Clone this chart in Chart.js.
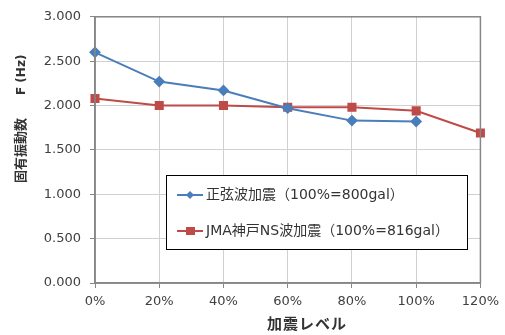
<!DOCTYPE html>
<html>
<head>
<meta charset="utf-8">
<script src="https://cdn.jsdelivr.net/npm/chart.js@4"></script>
<style>
body{margin:0;background:#fff}
#wrap{width:505px;height:335px;position:relative}
</style>
</head>
<body>
<div id="wrap"><canvas id="myChart" width="505" height="335"></canvas></div>
<script>
// categories + two series
var levels=["0%","20%","40%","60%","80%","100%","120%"];
var sineName="正弦波加震（100%=800gal）";
var sineF=[2.60,2.27,2.17,1.97,1.83,1.82,null];
var kobeName="JMA神戸NS波加震（100%=816gal）";
var kobeF=[2.08,2.00,2.00,1.98,1.98,1.94,1.69];
var yTicks=[0,0.5,1,1.5,2,2.5,3];
var yTitleA="固有振動数";
var yTitleB="F (Hz)";
var xTitle="加震レベル";

var blue="#4A7EBB";
var red="#BE4B48";
var fnt="'DejaVu Sans','Noto Sans CJK JP',sans-serif";

// box round the plot, legend inside it, axis titles
var boxPlugin={
  id:"box",
  afterDraw:function(chart){
    var c=chart.ctx, a=chart.chartArea;
    c.save();
    c.strokeStyle="#868686";
    c.lineWidth=1.5;
    c.strokeRect(a.left,a.top,a.right-a.left,a.bottom-a.top);
    // legend
    var lx=166.5, ly=175.5, lw=301, lh=74;
    c.fillStyle="#fff";
    c.fillRect(lx,ly,lw,lh);
    c.strokeStyle="#000";
    c.lineWidth=1;
    c.strokeRect(lx,ly,lw,lh);
    var items=[[sineName,blue,"d",195],[kobeName,red,"s",231]];
    items.forEach(function(it){
      c.strokeStyle=it[1];c.fillStyle=it[1];c.lineWidth=2;
      c.beginPath();c.moveTo(177,it[3]);c.lineTo(203,it[3]);c.stroke();
      if(it[2]=="d"){
        c.beginPath();c.moveTo(190,it[3]-4);c.lineTo(194,it[3]);c.lineTo(190,it[3]+4);c.lineTo(186,it[3]);c.closePath();c.fill();
      }else{
        c.fillRect(186,it[3]-4,9,8);
      }
      c.fillStyle="#333";
      c.font="14px "+fnt;
      c.textBaseline="middle";
      c.fillText(it[0],206,it[3]);
    });
    // axis titles
    c.fillStyle="#333";
    c.textBaseline="middle";
    c.font="bold 15px "+fnt;
    c.textAlign="center";
    c.letterSpacing="1px";
    c.fillText(xTitle,307,325);
    c.letterSpacing="0px";
    c.textAlign="left";
    c.translate(22,183);
    c.rotate(-Math.PI/2);
    c.font="bold 13px "+fnt;
    c.fillText(yTitleA,0,0);
    c.font="bold 12px "+fnt;
    c.fillText(yTitleB,88,0);
    c.restore();
  }
};

new Chart(document.getElementById("myChart"),{
  type:"line",
  data:{
    labels:levels,
    datasets:[{
      label:sineName,
      data:sineF,
      borderColor:blue,backgroundColor:blue,
      borderWidth:2,pointStyle:"rectRot",pointRadius:4.5,pointHoverRadius:4.5,
      tension:0
    },{
      label:kobeName,
      data:kobeF,
      borderColor:red,backgroundColor:red,
      borderWidth:2,pointStyle:"rect",pointRadius:5,pointHoverRadius:5,
      tension:0
    }]
  },
  options:{
    responsive:false,
    animation:false,
    layout:{padding:{left:0,right:22,top:15,bottom:0}},
    plugins:{legend:{display:false},tooltip:{enabled:false}},
    scales:{
      x:{
        offset:false,
        grid:{color:"#d0d0d0",tickLength:5,tickColor:"#868686"},
        border:{color:"#868686",width:1.5},
        ticks:{color:"#404040",font:{family:fnt,size:13},padding:6,maxRotation:0},
        afterFit:function(s){s.height=52;}
      },
      y:{
        min:0,max:3,
        afterBuildTicks:function(s){s.ticks=yTicks.map(function(v){return {value:v};});},
        grid:{color:"#d0d0d0",tickLength:5,tickColor:"#868686"},
        border:{color:"#868686",width:1.5},
        ticks:{color:"#404040",font:{family:fnt,size:13},padding:9,
          callback:function(v){return Number(v).toFixed(3);}},
        afterFit:function(s){s.width=95;}
      }
    }
  },
  plugins:[boxPlugin]
});
</script>
</body>
</html>
